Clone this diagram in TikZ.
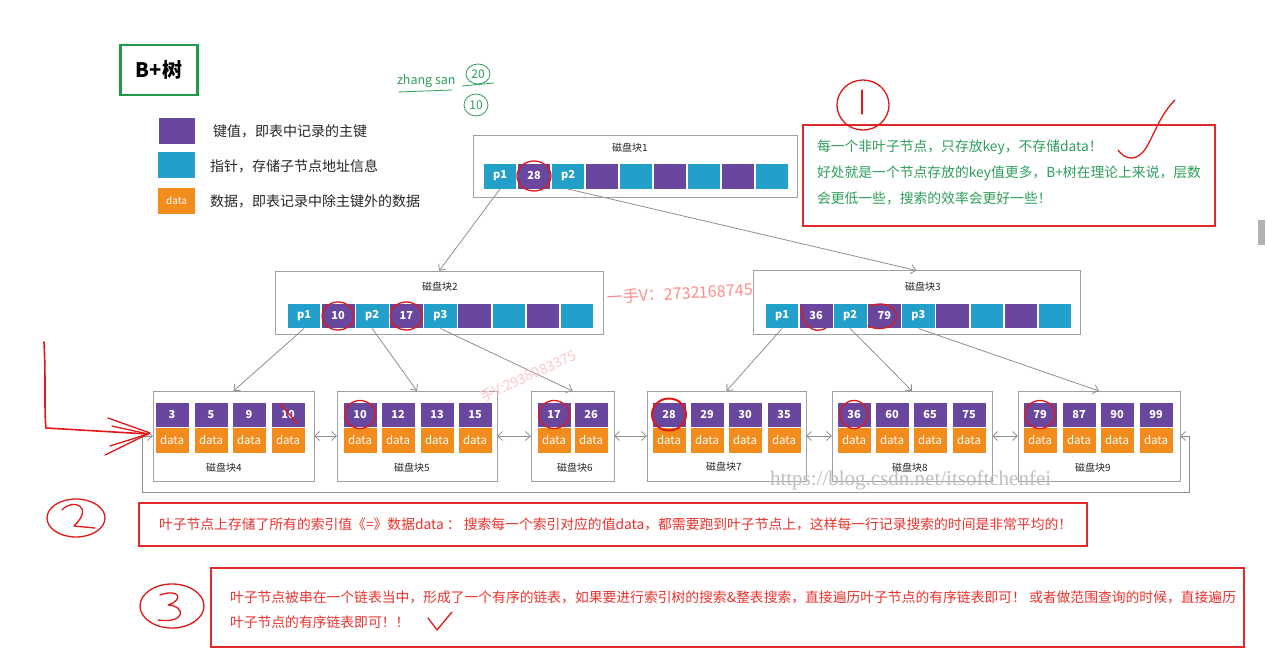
\documentclass[tikz,border=0pt]{standalone}
\usepackage{fontspec}
\setmainfont{Noto Sans CJK SC}
\newfontfamily\wmserif{Liberation Serif}
\usetikzlibrary{arrows.meta,calc}
\definecolor{kpurple}{HTML}{6A479F}
\definecolor{kblue}{HTML}{22A0C9}
\definecolor{korange}{HTML}{F28C1C}
\definecolor{kgray}{HTML}{8C9096}
\definecolor{kred}{HTML}{E02A2A}
\definecolor{ktext}{HTML}{E8332E}
\definecolor{kgreen}{HTML}{2E9E5B}
\definecolor{tgreen}{HTML}{1F9A48}
\definecolor{hred}{HTML}{E01818}
\begin{document}
\begin{tikzpicture}[x=1pt,y=-1pt,
  every node/.style={inner sep=0pt, outer sep=0pt},
  pcell/.style={fill=kpurple, draw=white, line width=0.6pt, minimum width=33, minimum height=26, text=white, font=\fontsize{11}{12}\selectfont\bfseries},
  bcell/.style={pcell, fill=kblue},
  lkey/.style={pcell, minimum width=34, minimum height=25},
  dcell/.style={fill=korange, draw=white, line width=0.6pt, minimum width=34, minimum height=26, text=white, font=\fontsize{11.5}{12}\selectfont},
  blockbox/.style={draw=kgray!85, line width=0.9pt, fill=white},
  blabel/.style={font=\fontsize{10}{11}\selectfont, text=black!85},
  link/.style={draw=kgray, line width=0.8pt, -{Straight Barb[length=5pt,width=9pt]}},
  dlink/.style={draw=kgray, line width=0.8pt, {Straight Barb[length=5pt,width=9pt]}-{Straight Barb[length=5pt,width=9pt]}},
  redbox/.style={draw=kred, line width=2.2pt},
  note/.style={anchor=west, font=\fontsize{13.8}{15}\selectfont},
  legtext/.style={anchor=west, font=\fontsize{14}{15}\selectfont, text=black!85},
  hand/.style={draw=hred, line width=1.3pt, line cap=round, line join=round},
]
\useasboundingbox (0,0) rectangle (1267,663);
\fill[white] (0,0) rectangle (1267,663);

% title
\node[draw=tgreen, line width=2.5pt, minimum width=77, minimum height=50, font=\fontsize{20}{22}\selectfont\bfseries] (title) at (159,70) {B+树};

% legend
\node[fill=kpurple, minimum width=36, minimum height=26] (lgp) at (177,131) {};
\node[fill=kblue, minimum width=37, minimum height=26] (lgb) at (176.5,165) {};
\node[fill=korange, minimum width=37, minimum height=26, text=white, font=\fontsize{10}{11}\selectfont] (lgd) at (176.5,201) {data};
\node[legtext] (lgt1) at (213,131) {键值，即表中记录的主键};
\node[legtext] (lgt2) at (210,166) {指针，存储子节点地址信息};
\node[legtext] (lgt3) at (210,201) {数据，即表记录中除主键外的数据};

% root block
\node[blockbox, minimum width=324, minimum height=62] (b1) at (635,166) {};
\node[blabel] (lab1) at (630,148) {磁盘块1};
\foreach \i/\t/\s in {0/p1/bcell,1/28/pcell,2/p2/bcell,3//pcell,4//bcell,5//pcell,6//bcell,7//pcell,8//bcell}
  \node[\s] (r\i) at ({500+34*\i},176) {\t};

% level 2
\node[blockbox, minimum width=328, minimum height=63] (b2) at (439,302.5) {};
\node[blabel] (lab2) at (440,287) {磁盘块2};
\foreach \i/\t/\s in {0/p1/bcell,1/10/pcell,2/p2/bcell,3/17/pcell,4/p3/bcell,5//pcell,6//bcell,7//pcell,8//bcell}
  \node[\s, minimum width=33.5, minimum height=25] (c2\i) at ({304+34.1*\i},316) {\t};

\node[blockbox, minimum width=327, minimum height=64] (b3) at (916.5,302.5) {};
\node[blabel] (lab3) at (923,287) {磁盘块3};
\foreach \i/\t/\s in {0/p1/bcell,1/36/pcell,2/p2/bcell,3/79/pcell,4/p3/bcell,5//pcell,6//bcell,7//pcell,8//bcell}
  \node[\s, minimum width=33.5, minimum height=25] (c3\i) at ({782+34.1*\i},316) {\t};

% leaves
\node[blockbox, minimum width=161, minimum height=90] (l4) at (233.5,436) {};
\node[blockbox, minimum width=160, minimum height=90] (l5) at (417,436) {};
\node[blockbox, minimum width=83, minimum height=90] (l6) at (572.5,436) {};
\node[blockbox, minimum width=159, minimum height=90] (l7) at (726.5,436) {};
\node[blockbox, minimum width=160, minimum height=90] (l8) at (912,436) {};
\node[blockbox, minimum width=162, minimum height=90] (l9) at (1099,436) {};

\foreach \n/\x/\k in {4/172/3,4/211/5,4/249/9,4/288/10,
                      5/360/10,5/398/12,5/437/13,5/475/15,
                      6/554/17,6/591/26,
                      7/669/28,7/707/29,7/745/30,7/784/35,
                      8/854/36,8/892/60,8/930/65,8/969/75,
                      9/1040/79,9/1079/87,9/1117/90,9/1156/99}{
  \node[lkey] (k\n-\k) at (\x,414.5) {\k};
  \node[dcell] (d\n-\k) at (\x,440) {data};
}
\node[blabel] (lab4) at (224,468) {磁盘块4};
\node[blabel] (lab5) at (412,468) {磁盘块5};
\node[blabel] (lab6) at (575,468) {磁盘块6};
\node[blabel] (lab7) at (724,467) {磁盘块7};
\node[blabel] (lab8) at (910,468) {磁盘块8};
\node[blabel] (lab9) at (1093,468) {磁盘块9};

% tree links
\draw[link] (r0.south) -- (b2.north);
\draw[link] (r2.south) -- (b3.north);
\draw[link] (c20.south) -- (l4.north);
\draw[link] (c22.south) -- (l5.north);
\draw[link] (c24.south) -- (l6.north);
\draw[link] (c30.south) -- (l7.north);
\draw[link] (c32.south) -- (l8.north);
\draw[link] (c34.south) -- (l9.north);

% leaf chain
\draw[dlink] (l4.east) -- (l5.west);
\draw[dlink] (l5.east) -- (l6.west);
\draw[dlink] (l6.east) -- (l7.west);
\draw[dlink] (l7.east) -- (l8.west);
\draw[dlink] (l8.east) -- (l9.west);
\coordinate (lpA) at (142,436);
\coordinate (lpB) at (142,492);
\coordinate (lpC) at (1189,492);
\coordinate (lpD) at (1189,436);
\draw[dlink] (l4.west) -- (lpA) -- (lpB) -- (lpC) -- (lpD) -- (l9.east);

% watermarks
\node[text=red!45, font=\fontsize{16}{16}\selectfont, rotate=3, anchor=west] (wm1) at (607,297) {一手V：2732168745};
\node[text=red!22, font=\fontsize{14}{14}\selectfont, rotate=25] (wm2) at (528,376) {手V:2938083375};
\node[text=black!25, font=\wmserif\fontsize{21}{21}\selectfont, anchor=west] (wm3) at (770,480) {https://blog.csdn.net/itsoftchenfei};

% annotation 1
\node[redbox, minimum width=412, minimum height=101] (n1) at (1009,175.5) {};
\node[note, text=kgreen] (n1a) at (817,147) {每一个非叶子节点，只存放key，不存储data！};
\node[note, text=kgreen] (n1b) at (817,173) {好处就是一个节点存放的key值更多，B+树在理论上来说，层数};
\node[note, text=kgreen] (n1c) at (817,198) {会更低一些，搜索的效率会更好一些！};

% annotation 2
\node[redbox, minimum width=948, minimum height=43] (n2) at (613,524.5) {};
\node[note, text=ktext] (n2a) at (159,524) {叶子节点上存储了所有的索引值《=》数据data ： 搜索每一个索引对应的值data，都需要跑到叶子节点上，这样每一行记录搜索的时间是非常平均的！};

% annotation 3
\node[redbox, minimum width=1033, minimum height=79] (n3) at (727.5,607.5) {};
\node[note, text=ktext] (n3a) at (230,597) {叶子节点被串在一个链表当中，形成了一个有序的链表，如果要进行索引树的搜索\&整表搜索，直接遍历叶子节点的有序链表即可！ 或者做范围查询的时候，直接遍历};
\node[note, text=ktext] (n3b) at (230,622) {叶子节点的有序链表即可！！};

% handwriting: green
\node[text=kgreen, font=\fontsize{12.5}{13}\selectfont, anchor=west] (zs) at (397,81) {zhang san};
\draw[kgreen, line width=0.8pt] (398,92) -- (452,90);
\node[text=kgreen, font=\fontsize{12}{13}\selectfont] (g20) at (478,74) {20};
\draw[kgreen, line width=0.8pt] (g20) ellipse [x radius=12, y radius=10];
\draw[kgreen, line width=0.8pt] (462,86) -- (494,83);
\node[text=kgreen, font=\fontsize{12}{13}\selectfont] (g10) at (476,105) {10};
\draw[kgreen, line width=0.8pt] (g10) ellipse [x radius=12, y radius=11];

% handwriting: red circles on keys
\draw[hand] (r1) ellipse [x radius=17, y radius=15];
\draw[hand] (c21) ellipse [x radius=16, y radius=14];
\draw[hand] (c23) ellipse [x radius=16, y radius=14];
\draw[hand] (802,306) .. controls (800,322) and (812,336) .. (826,328);
\draw[hand] (870,306) .. controls (885,300) and (900,308) .. (896,320) .. controls (892,330) and (875,330) .. (868,326);
\draw[hand] (k5-10) ellipse [x radius=15, y radius=14];
\draw[hand] (280,404) -- (298,424);
\draw[hand] (k6-17) ellipse [x radius=15, y radius=14];
\draw[hand, line width=2pt] (k7-28) ellipse [x radius=17, y radius=16];
\draw[hand] (k8-36) ellipse [x radius=14, y radius=14];
\draw[hand] (k9-79) ellipse [x radius=15, y radius=14];

% handwriting: numbered circles
\draw[hand] (863,105) ellipse [x radius=26, y radius=25];
\draw[hand] (862,90) -- (862,114);
\draw[hand] (1118,150) .. controls (1125,160) and (1137,162) .. (1146,148) .. controls (1155,133) and (1160,115) .. (1175,100);
\draw[hand] (76,518) ellipse [x radius=29, y radius=19];
\draw[hand] (62,510) .. controls (72,498) and (95,506) .. (74,526) -- (95,528);
\draw[hand] (172,606) ellipse [x radius=32, y radius=22];
\draw[hand] (160,595) .. controls (180,588) and (184,600) .. (168,605) .. controls (186,606) and (186,624) .. (158,620);
\draw[hand] (428,618) -- (437,630) -- (452,612);

% handwriting: left arrow
\draw[hand, line width=1.6pt] (44,342) .. controls (46,380) and (44,410) .. (46,428) -- (148,434);
\draw[hand] (108,418) -- (150,433) -- (105,455);
\draw[hand] (112,426) -- (148,434) -- (110,446);

% scrollbar hint
\fill[black!30] (1258,220) rectangle (1265,245);
\end{tikzpicture}
\end{document}
